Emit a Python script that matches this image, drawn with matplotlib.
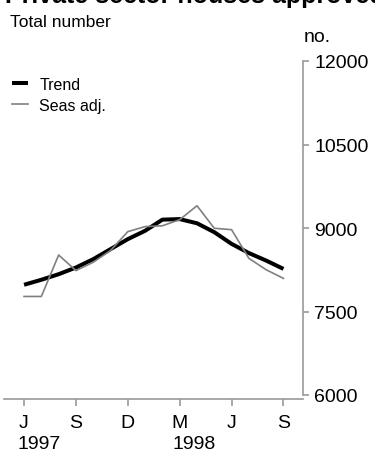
import numpy as np
import matplotlib
matplotlib.use("Agg")
import matplotlib.pyplot as plt
import matplotlib.transforms as mtrans

plt.rcParams['font.family'] = ['Liberation Sans', 'DejaVu Sans']

# Monthly data, Jun 1997 - Sep 1998
months = np.arange(16)
trend = [7980, 8070, 8170, 8290, 8440, 8620, 8800, 8950,
         9150, 9160, 9085, 8925, 8715, 8550, 8415, 8265]
seas_adj = [7770, 7770, 8515, 8235, 8385, 8595, 8935, 9025,
            9040, 9150, 9400, 8995, 8970, 8455, 8250, 8095]

tick_pos = [0, 3, 6, 9, 12, 15]
tick_lab = ['J', 'S', 'D', 'M', 'J', 'S']
years = [(0, '1997'), (9, '1998')]
yticks = [6000, 7500, 9000, 10500, 12000]

axis_grey = '#9a9a9a'

fig = plt.figure(figsize=(3.75, 4.52), dpi=100)
ax = fig.add_axes([4/375, 1 - 396/452, 299/375, 334/452])

ax.plot(months, trend, color='black', lw=2.9, solid_capstyle='butt', label='Trend')
ax.plot(months, seas_adj, color='#808080', lw=1.2, label='Seas adj.')

ax.set_xlim(-1.16, 16.13)
ax.set_ylim(6000, 12000)

# axes styling
for s in ['top', 'left']:
    ax.spines[s].set_visible(False)
ax.spines['right'].set_color(axis_grey)
ax.spines['right'].set_linewidth(1.2)
ax.spines['bottom'].set_color(axis_grey)
ax.spines['bottom'].set_linewidth(1.2)
ax.spines['bottom'].set_position(('outward', 3))

ax.yaxis.tick_right()
ax.set_yticks(yticks)
ax.set_yticklabels([str(v) for v in yticks])
ax.tick_params(axis='y', direction='out', length=4, width=1.2, color=axis_grey,
               pad=4, labelsize=14)
ax.set_xticks(tick_pos)
ax.set_xticklabels(tick_lab)
ax.tick_params(axis='x', direction='out', length=5, width=1.2, color=axis_grey,
               pad=6, labelsize=14)

# years under month labels
tr = mtrans.blended_transform_factory(ax.transData, fig.transFigure)
for pos, yr in years:
    ax.text(pos - 0.4, 1 - 436/452, yr, transform=tr, ha='left', va='top',
            fontsize=14)

# titles
fig.text(5/375, 1 - 3/452, 'Private sector houses approved', ha='left',
         va='baseline', fontsize=18, fontweight='bold')
fig.text(10/375, 1 - 27/452, 'Total number', ha='left', va='baseline', fontsize=12.5)
fig.text(304/375, 1 - 42/452, 'no.', ha='left', va='baseline', fontsize=14)

ax.legend(loc='upper left', bbox_to_anchor=(12/375, 1 - 78/452),
          bbox_transform=fig.transFigure, frameon=False, fontsize=11.5,
          handlelength=1.0, handletextpad=0.7, labelspacing=0.35,
          borderpad=0, borderaxespad=0)

fig.savefig('out.png', dpi=100)
